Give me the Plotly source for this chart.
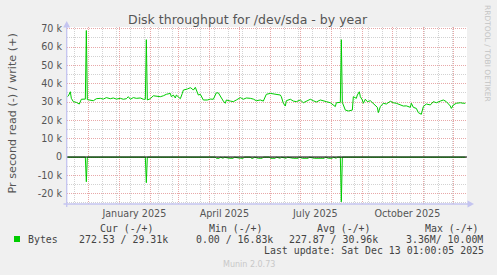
import plotly.graph_objects as go

# ---------------- data ----------------
write_dates = [
    "2024-11-10", "2024-11-11", "2024-11-13", "2024-11-14", "2024-11-16", "2024-11-19",
    "2024-11-22", "2024-11-24", "2024-11-28", "2024-11-29", "2024-11-30", "2024-12-03",
    "2024-12-06", "2024-12-09", "2024-12-13", "2024-12-16", "2024-12-19", "2024-12-23",
    "2024-12-26", "2024-12-29", "2025-01-02", "2025-01-05", "2025-01-08", "2025-01-10",
    "2025-01-12", "2025-01-15", "2025-01-18", "2025-01-22", "2025-01-25", "2025-01-27",
    "2025-01-28", "2025-01-29", "2025-02-01", "2025-02-04", "2025-02-07", "2025-02-11",
    "2025-02-14", "2025-02-17", "2025-02-21", "2025-02-22", "2025-02-24", "2025-02-26",
    "2025-02-27", "2025-03-03", "2025-03-05", "2025-03-06", "2025-03-10", "2025-03-13",
    "2025-03-15", "2025-03-16", "2025-03-18", "2025-03-20", "2025-03-21", "2025-03-23",
    "2025-03-25", "2025-03-26", "2025-03-30", "2025-04-02", "2025-04-05", "2025-04-08",
    "2025-04-10", "2025-04-12", "2025-04-15", "2025-04-17", "2025-04-18", "2025-04-22",
    "2025-04-25", "2025-04-28", "2025-05-02", "2025-05-05", "2025-05-08", "2025-05-12",
    "2025-05-15", "2025-05-18", "2025-05-22", "2025-05-25", "2025-05-28", "2025-06-01",
    "2025-06-04", "2025-06-07", "2025-06-11", "2025-06-12", "2025-06-14", "2025-06-16",
    "2025-06-17", "2025-06-21", "2025-06-24", "2025-06-27", "2025-07-01", "2025-07-04",
    "2025-07-07", "2025-07-11", "2025-07-14", "2025-07-17", "2025-07-21", "2025-07-24",
    "2025-07-27", "2025-07-31", "2025-08-03", "2025-08-05", "2025-08-06", "2025-08-10",
    "2025-08-11", "2025-08-12", "2025-08-15", "2025-08-18", "2025-08-22", "2025-08-23",
    "2025-08-26", "2025-08-27", "2025-08-29", "2025-08-30", "2025-09-01", "2025-09-02",
    "2025-09-04", "2025-09-06", "2025-09-09", "2025-09-12", "2025-09-16", "2025-09-17",
    "2025-09-19", "2025-09-22", "2025-09-25", "2025-09-29", "2025-10-02", "2025-10-05",
    "2025-10-09", "2025-10-12", "2025-10-15", "2025-10-19", "2025-10-20", "2025-10-22",
    "2025-10-25", "2025-10-27", "2025-10-30", "2025-11-01", "2025-11-04", "2025-11-08",
    "2025-11-11", "2025-11-14", "2025-11-18", "2025-11-21", "2025-11-24", "2025-11-28",
    "2025-11-29", "2025-12-01", "2025-12-04", "2025-12-08", "2025-12-11", "2025-12-13",
]
write_values = [
    32900, 33300, 35600, 32000, 30200, 29800,
    28900, 31500, 31600, 69000, 31300, 31100,
    30700, 31800, 32000, 31600, 32400, 31800,
    32200, 31600, 32000, 31500, 31800, 32900,
    31500, 32400, 32000, 32200, 31500, 31500,
    64000, 31100, 31800, 33400, 33300, 32900,
    33400, 34200, 34700, 32900, 33800, 32200,
    33800, 31800, 34700, 36500, 37100, 37800,
    37100, 36500, 38000, 35600, 33800, 34200,
    32500, 31100, 31100, 31600, 31500, 35000,
    35000, 32900, 30500, 29300, 31100, 30500,
    30200, 31100, 32400, 31500, 32200, 32000,
    31600, 30700, 31100, 30500, 34200, 34700,
    34500, 34200, 33800, 32900, 29300, 27800,
    30700, 31500, 30500, 30200, 31100, 29600,
    30500, 31500, 30700, 30000, 31100, 30500,
    30200, 29600, 28500, 27500, 29600, 29800,
    64000, 29800, 25600, 25100, 25600, 32900,
    32000, 33800, 35600, 32900, 31100, 29300,
    31500, 30200, 30700, 29300, 27100, 24200,
    27500, 29300, 28900, 30400, 29600, 29300,
    28400, 27800, 27900, 27100, 29300, 27100,
    26500, 24200, 23300, 27500, 28900, 28400,
    30200, 29600, 30500, 31100, 30200, 27800,
    26500, 28400, 29300, 29600, 29300, 29300,
]

read_dates = [
    "2024-11-10", "2024-11-28", "2024-11-29", "2024-11-30", "2025-01-27", "2025-01-28",
    "2025-01-29", "2025-04-07", "2025-04-08", "2025-04-11", "2025-04-12", "2025-04-15",
    "2025-04-16", "2025-04-21", "2025-04-25", "2025-04-26", "2025-05-02", "2025-05-05",
    "2025-05-06", "2025-05-12", "2025-05-13", "2025-05-15", "2025-05-16", "2025-05-20",
    "2025-05-24", "2025-05-25", "2025-05-31", "2025-06-01", "2025-06-06", "2025-06-07",
    "2025-06-11", "2025-06-12", "2025-06-17", "2025-06-18", "2025-06-24", "2025-06-29",
    "2025-06-30", "2025-07-03", "2025-07-09", "2025-07-10", "2025-07-15", "2025-07-25",
    "2025-07-26", "2025-07-29", "2025-08-02", "2025-08-03", "2025-08-06", "2025-08-07",
    "2025-08-10", "2025-08-11", "2025-08-12", "2025-12-13",
]
read_values = [
    -100, -100, -13500, -100, -100, -14000,
    -100, -100, -700, -700, -100, -700,
    -100, -700, -700, -100, -700, -700,
    -100, -100, -700, -700, -100, -700,
    -700, -100, -100, -700, -700, -100,
    -700, -100, -700, -100, -700, -700,
    -100, -700, -700, -100, -700, -700,
    -100, -700, -700, -100, -700, -100,
    -100, -24400, -100, -100,
]

y_tick_values = [-20000, -10000, 0, 10000, 20000, 30000, 40000, 50000, 60000, 70000]
y_tick_labels = ["-20 k", "-10 k", "0", "10 k", "20 k", "30 k", "40 k", "50 k", "60 k", "70 k"]
y_minor_values = [-25000, -15000, -5000, 5000, 15000, 25000, 35000, 45000, 55000, 65000]

month_starts = ["2024-12-01", "2025-01-01", "2025-02-01", "2025-03-01", "2025-04-01",
                "2025-05-01", "2025-06-01", "2025-07-01", "2025-08-01", "2025-09-01",
                "2025-10-01", "2025-11-01", "2025-12-01"]
x_label_dates = ["2025-01-16", "2025-04-16", "2025-07-16", "2025-10-16"]
x_label_texts = ["January 2025", "April 2025", "July 2025", "October 2025"]

legend_headers = ["Cur (-/+)", "Min (-/+)", "Avg (-/+)", "Max (-/+)"]
legend_values = ["272.53 / 29.31k", "0.00 / 16.83k", "227.87 / 30.96k", "3.36M/ 10.00M"]

# ---------------- figure ----------------
W, H = 497, 275
L, R, T, B = 67, 467, 27, 204


def px(x):
    return (x - L) / (R - L)


def py(y):
    return (B - y) / (B - T)


GREEN = "#00CC00"
fig = go.Figure()
fig.add_trace(go.Scatter(x=write_dates, y=write_values, mode="lines",
                         line=dict(color=GREEN, width=1), showlegend=False, hoverinfo="skip"))
fig.add_trace(go.Scatter(x=read_dates, y=read_values, mode="lines",
                         line=dict(color=GREEN, width=1), showlegend=False, hoverinfo="skip"))
# dummy trace to carry the label axis
fig.add_trace(go.Scatter(x=[x_label_dates[0]], y=[None], xaxis="x2", mode="markers",
                         showlegend=False, hoverinfo="skip"))

xr = ["2024-11-09 16:00", "2025-12-14 16:00"]
RED_GRID = "#e8a8a8"
GREY_GRID = "#d2d2d2"
TICK_FONT = dict(family="DejaVu Sans", size=9.6, color="#555555")

fig.update_layout(
    width=W, height=H, autosize=False,
    margin=dict(l=L, r=W - R, t=T, b=H - B, pad=0),
    paper_bgcolor="#F0F0F0", plot_bgcolor="white",
    xaxis=dict(
        type="date", range=xr, tickvals=month_starts, showticklabels=False,
        showgrid=True, gridcolor=RED_GRID, griddash="1px,1px", gridwidth=1,
        ticks="", zeroline=False, showline=False,
        minor=dict(dtick=14 * 86400000, tick0="2024-11-17", showgrid=True,
                   gridcolor=GREY_GRID, griddash="1px,1px", gridwidth=1, ticks=""),
    ),
    xaxis2=dict(
        type="date", range=xr, overlaying="x", side="bottom", anchor="y",
        tickvals=x_label_dates, ticktext=x_label_texts, showgrid=False, ticks="",
        zeroline=False, showline=False, tickfont=TICK_FONT, ticklabelstandoff=2,
    ),
    yaxis=dict(
        range=[-25640, 70920], tickvals=y_tick_values, ticktext=y_tick_labels,
        showgrid=True, gridcolor=RED_GRID, griddash="1px,1px", gridwidth=1,
        ticks="", zeroline=False, showline=False, tickfont=TICK_FONT, ticklabelstandoff=4,
        minor=dict(tickvals=y_minor_values, showgrid=True, gridcolor=GREY_GRID,
                   griddash="1px,1px", gridwidth=1, ticks=""),
    ),
)

AXIS_COL = "#c4c4f0"
shapes = [
    # zero line
    dict(type="line", xref="paper", yref="y", x0=0, x1=1, y0=0, y1=0,
         line=dict(color="black", width=1), layer="above"),
    # left axis
    dict(type="line", xref="paper", yref="paper", x0=px(66.7), x1=px(66.7), y0=py(207), y1=py(23),
         line=dict(color=AXIS_COL, width=1.3), layer="above"),
    # bottom axis
    dict(type="line", xref="paper", yref="paper", x0=px(63.5), x1=px(471), y0=py(204), y1=py(204),
         line=dict(color=AXIS_COL, width=1.3), layer="above"),
    # arrows
    dict(type="path", xref="paper", yref="paper",
         path=f"M {px(63.2)} {py(27.5)} L {px(70.2)} {py(27.5)} L {px(66.7)} {py(21)} Z",
         fillcolor=AXIS_COL, line=dict(width=0), layer="above"),
    dict(type="path", xref="paper", yref="paper",
         path=f"M {px(467.5)} {py(200.5)} L {px(467.5)} {py(207.5)} L {px(474)} {py(204)} Z",
         fillcolor=AXIS_COL, line=dict(width=0), layer="above"),
    # legend swatch
    dict(type="rect", xref="paper", yref="paper", x0=px(14), x1=px(20), y0=py(242), y1=py(236),
         fillcolor=GREEN, line=dict(width=0)),
]
fig.update_layout(shapes=shapes)

MONO = dict(family="DejaVu Sans Mono", size=9.9, color="#444444")
ann = []


def text(s, x, y, font, xanchor="left", angle=0):
    ann.append(dict(text=s, x=px(x), y=py(y), xref="paper", yref="paper", showarrow=False,
                    xanchor=xanchor, yanchor="middle", font=font, textangle=angle))


text("Disk throughput for /dev/sda - by year", 248, 19.5,
     dict(family="DejaVu Sans", size=12.5, color="#555555"), xanchor="center")
text("Pr second read (-) / write (+)", 12, 113.5,
     dict(family="DejaVu Sans", size=11.2, color="#555555"), xanchor="center", angle=-90)
text("RRDTOOL / TOBI OETIKER", 487.5, 53.5,
     dict(family="DejaVu Sans", size=7.5, color="#c4c4c4"), xanchor="center", angle=90)
hx = [98, 207, 315, 423]
for h, x in zip(legend_headers, hx):
    text(h, x, 228, MONO)
text("Bytes", 26, 239, MONO)
vx = [77, 194, 287, 404]
for v, x in zip(legend_values, vx):
    text(v, x, 239, MONO)
text("Last update: Sat Dec 13 01:00:05 2025", 262, 251, MONO)
text("Munin 2.0.73", 249, 264, dict(family="DejaVu Sans", size=8, color="#c8c8c8"),
     xanchor="center")
fig.update_layout(annotations=ann)

fig.write_html("out.html")
